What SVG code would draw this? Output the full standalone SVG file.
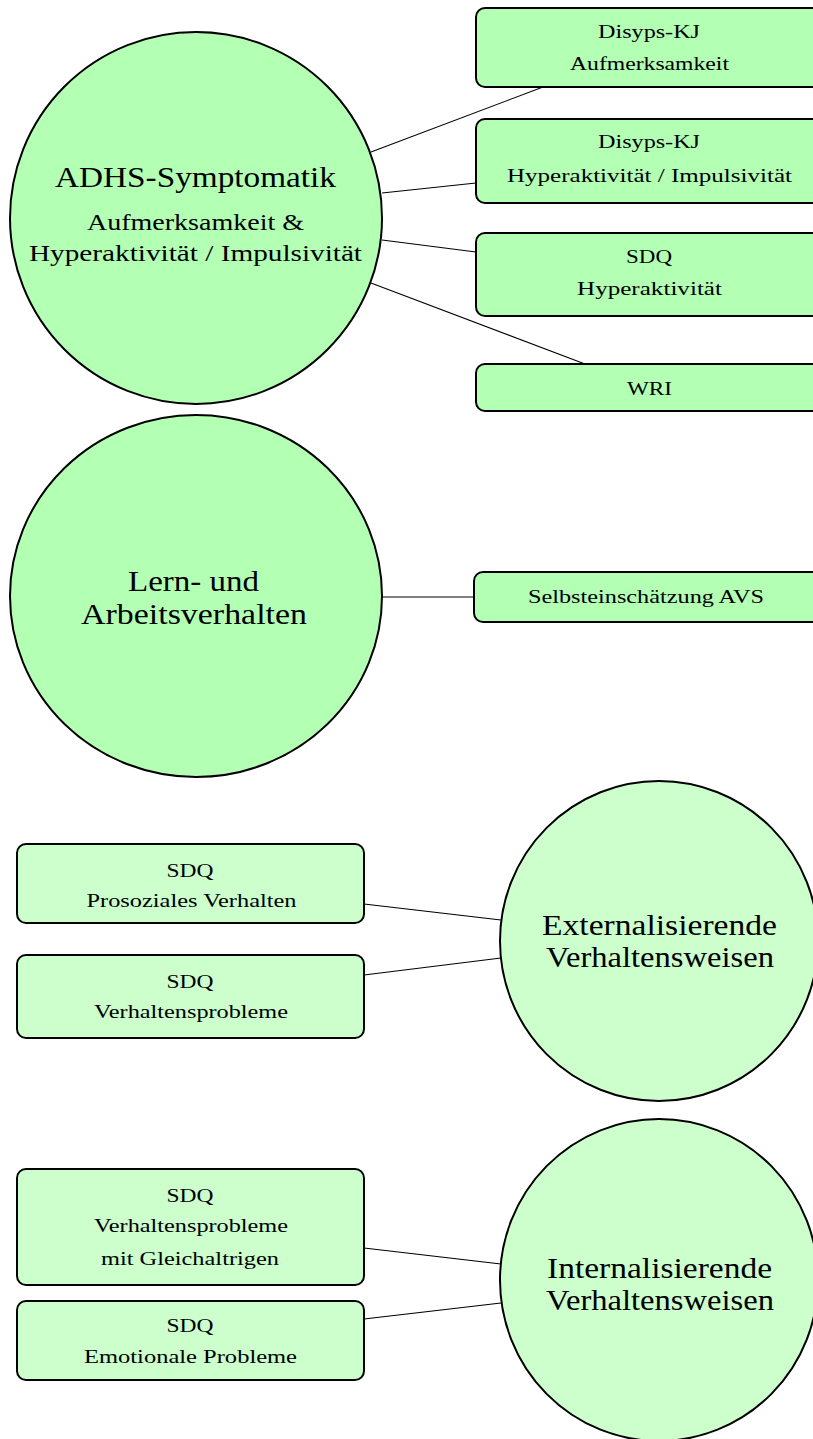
<svg xmlns="http://www.w3.org/2000/svg" width="813" height="1439" viewBox="0 0 813 1439">
  <style>
    text { font-family: "Liberation Serif", "DejaVu Serif", serif; fill: #000; text-anchor: middle; }
    .big { font-size: 29px; }
    .mid { font-size: 24px; }
    .sm { font-size: 19px; }
    .hub { stroke: #000; stroke-width: 2; }
    .box { stroke: #000; stroke-width: 2; }
    .g1 { fill: #b3ffb3; }
    .g2 { fill: #ccffcc; }
    .edge { stroke: #000; stroke-width: 1.1; fill: none; }
  </style>
  <rect width="813" height="1439" fill="#fff"/>

  <!-- connectors -->
  <g id="connectors">
    <line class="edge" x1="371" y1="152" x2="543" y2="87"/>
    <line class="edge" x1="382" y1="193" x2="476" y2="183"/>
    <line class="edge" x1="382" y1="240" x2="476" y2="252"/>
    <line class="edge" x1="371" y1="283" x2="585" y2="364"/>
    <line class="edge" x1="381" y1="597" x2="474" y2="597"/>
    <line class="edge" x1="364" y1="904" x2="501" y2="920"/>
    <line class="edge" x1="364" y1="975" x2="501" y2="958"/>
    <line class="edge" x1="364" y1="1248" x2="501" y2="1264"/>
    <line class="edge" x1="364" y1="1319" x2="501" y2="1303"/>
  </g>

  <!-- hub: ADHS -->
  <g id="adhs">
    <ellipse class="hub g1" cx="196" cy="218" rx="186" ry="186"/>
    <text class="big" x="195.5" y="187" textLength="281" lengthAdjust="spacingAndGlyphs">ADHS-Symptomatik</text>
    <text class="mid" x="195.5" y="230" textLength="217" lengthAdjust="spacingAndGlyphs">Aufmerksamkeit &amp;</text>
    <text class="mid" x="195.5" y="261" textLength="333" lengthAdjust="spacingAndGlyphs">Hyperaktivität / Impulsivität</text>
  </g>

  <g id="disyps-aufmerksamkeit">
    <rect class="box g1" x="476" y="8" width="350" height="79" rx="9"/>
    <text class="sm" x="649" y="38" textLength="102" lengthAdjust="spacingAndGlyphs">Disyps-KJ</text>
    <text class="sm" x="649.5" y="70" textLength="159" lengthAdjust="spacingAndGlyphs">Aufmerksamkeit</text>
  </g>

  <g id="disyps-hyperaktivitaet">
    <rect class="box g1" x="476" y="119" width="350" height="84" rx="9"/>
    <text class="sm" x="649" y="148" textLength="102" lengthAdjust="spacingAndGlyphs">Disyps-KJ</text>
    <text class="sm" x="649.5" y="182" textLength="285" lengthAdjust="spacingAndGlyphs">Hyperaktivität / Impulsivität</text>
  </g>

  <g id="sdq-hyperaktivitaet">
    <rect class="box g1" x="476" y="233" width="350" height="83" rx="9"/>
    <text class="sm" x="649" y="263" textLength="46" lengthAdjust="spacingAndGlyphs">SDQ</text>
    <text class="sm" x="649.5" y="295" textLength="145" lengthAdjust="spacingAndGlyphs">Hyperaktivität</text>
  </g>

  <g id="wri">
    <rect class="box g1" x="476" y="364" width="350" height="47" rx="9"/>
    <text class="sm" x="649.5" y="395" textLength="45" lengthAdjust="spacingAndGlyphs">WRI</text>
  </g>

  <!-- hub: Lern- und Arbeitsverhalten -->
  <g id="lernverhalten">
    <ellipse class="hub g1" cx="196" cy="596" rx="186" ry="181"/>
    <text class="big" x="193.5" y="591" textLength="131" lengthAdjust="spacingAndGlyphs">Lern- und</text>
    <text class="big" x="194" y="624" textLength="226" lengthAdjust="spacingAndGlyphs">Arbeitsverhalten</text>
  </g>

  <g id="avs">
    <rect class="box g1" x="474" y="572" width="352" height="50" rx="9"/>
    <text class="sm" x="646" y="603" textLength="236" lengthAdjust="spacingAndGlyphs">Selbsteinschätzung AVS</text>
  </g>

  <!-- hub: Externalisierende Verhaltensweisen -->
  <g id="externalisierend">
    <ellipse class="hub g2" cx="659" cy="941" rx="159" ry="160"/>
    <text class="big" x="659.5" y="935" textLength="235" lengthAdjust="spacingAndGlyphs">Externalisierende</text>
    <text class="big" x="660" y="967" textLength="228" lengthAdjust="spacingAndGlyphs">Verhaltensweisen</text>
  </g>

  <g id="sdq-prosozial">
    <rect class="box g2" x="17" y="844" width="347" height="79" rx="9"/>
    <text class="sm" x="190" y="877" textLength="47" lengthAdjust="spacingAndGlyphs">SDQ</text>
    <text class="sm" x="191.5" y="907" textLength="210" lengthAdjust="spacingAndGlyphs">Prosoziales Verhalten</text>
  </g>

  <g id="sdq-verhaltensprobleme">
    <rect class="box g2" x="17" y="955" width="347" height="83" rx="9"/>
    <text class="sm" x="190" y="988" textLength="47" lengthAdjust="spacingAndGlyphs">SDQ</text>
    <text class="sm" x="191" y="1018" textLength="194" lengthAdjust="spacingAndGlyphs">Verhaltensprobleme</text>
  </g>

  <!-- hub: Internalisierende Verhaltensweisen -->
  <g id="internalisierend">
    <ellipse class="hub g2" cx="659" cy="1280" rx="159" ry="161"/>
    <text class="big" x="659.5" y="1278" textLength="225" lengthAdjust="spacingAndGlyphs">Internalisierende</text>
    <text class="big" x="660" y="1310" textLength="228" lengthAdjust="spacingAndGlyphs">Verhaltensweisen</text>
  </g>

  <g id="sdq-gleichaltrige">
    <rect class="box g2" x="17" y="1169" width="347" height="116" rx="9"/>
    <text class="sm" x="190" y="1202" textLength="47" lengthAdjust="spacingAndGlyphs">SDQ</text>
    <text class="sm" x="191" y="1232" textLength="194" lengthAdjust="spacingAndGlyphs">Verhaltensprobleme</text>
    <text class="sm" x="190" y="1265" textLength="178" lengthAdjust="spacingAndGlyphs">mit Gleichaltrigen</text>
  </g>

  <g id="sdq-emotional">
    <rect class="box g2" x="17" y="1301" width="347" height="79" rx="9"/>
    <text class="sm" x="190" y="1332" textLength="47" lengthAdjust="spacingAndGlyphs">SDQ</text>
    <text class="sm" x="190.5" y="1363" textLength="213" lengthAdjust="spacingAndGlyphs">Emotionale Probleme</text>
  </g>
</svg>
